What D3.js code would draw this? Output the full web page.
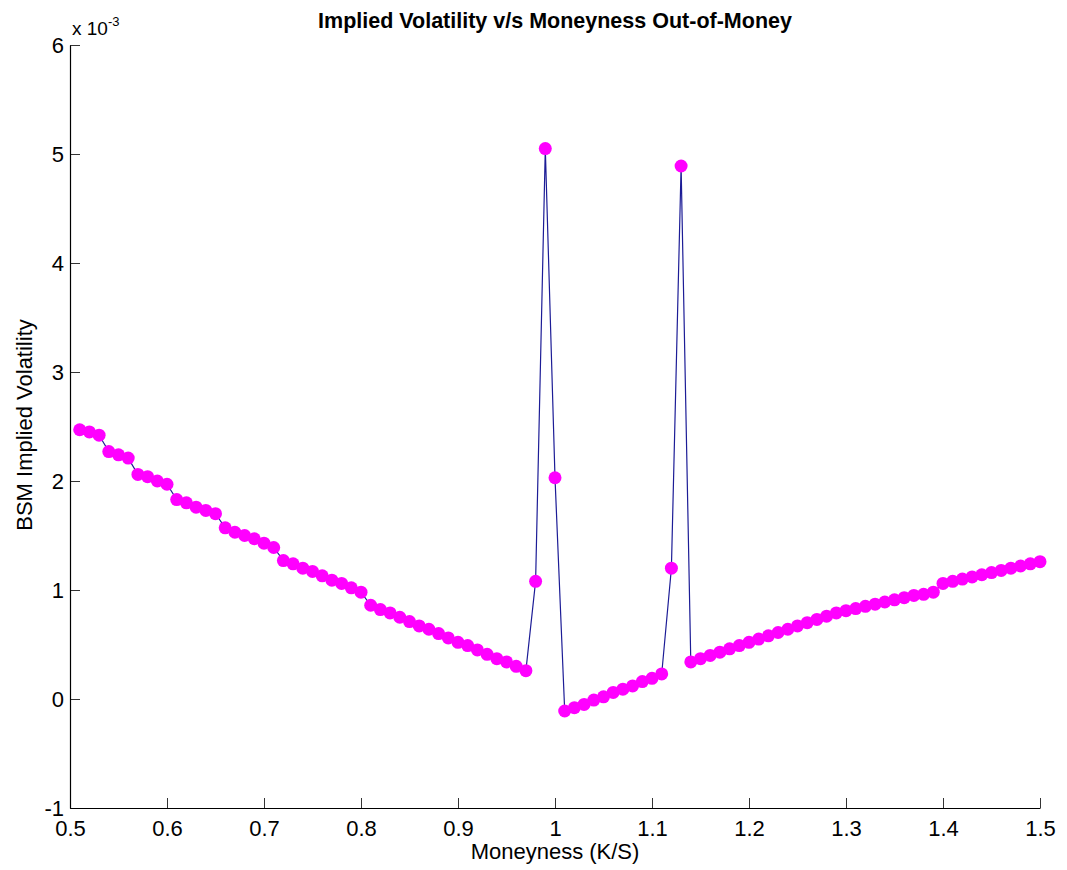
<!DOCTYPE html>
<html>
<head>
<meta charset="utf-8">
<script src="https://cdn.jsdelivr.net/npm/d3@7"></script>
<style>
  body { margin: 0; background: #fff; }
  text { font-family: Arial, "Liberation Sans", sans-serif; fill: #000; }
</style>
</head>
<body>
<svg id="chart" width="1067" height="870"></svg>
<script>
// moneyness K/S
var moneyness = [
  0.51, 0.52, 0.53, 0.54, 0.55, 0.56, 0.57, 0.58, 0.59, 0.60,
  0.61, 0.62, 0.63, 0.64, 0.65, 0.66, 0.67, 0.68, 0.69, 0.70,
  0.71, 0.72, 0.73, 0.74, 0.75, 0.76, 0.77, 0.78, 0.79, 0.80,
  0.81, 0.82, 0.83, 0.84, 0.85, 0.86, 0.87, 0.88, 0.89, 0.90,
  0.91, 0.92, 0.93, 0.94, 0.95, 0.96, 0.97, 0.98, 0.99, 1.00,
  1.01, 1.02, 1.03, 1.04, 1.05, 1.06, 1.07, 1.08, 1.09, 1.10,
  1.11, 1.12, 1.13, 1.14, 1.15, 1.16, 1.17, 1.18, 1.19, 1.20,
  1.21, 1.22, 1.23, 1.24, 1.25, 1.26, 1.27, 1.28, 1.29, 1.30,
  1.31, 1.32, 1.33, 1.34, 1.35, 1.36, 1.37, 1.38, 1.39, 1.40,
  1.41, 1.42, 1.43, 1.44, 1.45, 1.46, 1.47, 1.48, 1.49, 1.50
];

// implied vol, in units of 1e-3
var impliedVol = [
  2.47, 2.45, 2.42, 2.27, 2.24, 2.21, 2.06, 2.04, 2.00, 1.97,
  1.83, 1.80, 1.76, 1.73, 1.70, 1.57, 1.53, 1.50, 1.47, 1.43,
  1.39, 1.27, 1.24, 1.20, 1.17, 1.13, 1.09, 1.06, 1.02, 0.98,
  0.86, 0.82, 0.79, 0.75, 0.71, 0.67, 0.64, 0.60, 0.56, 0.52,
  0.49, 0.45, 0.41, 0.37, 0.34, 0.30, 0.26, 1.08, 5.05, 2.03,
  -0.11, -0.08, -0.05, -0.01, 0.02, 0.06, 0.09, 0.12, 0.16, 0.19,
  0.23, 1.20, 4.89, 0.34, 0.37, 0.40, 0.43, 0.46, 0.49, 0.52,
  0.55, 0.58, 0.61, 0.64, 0.67, 0.70, 0.73, 0.76, 0.79, 0.81,
  0.83, 0.85, 0.87, 0.89, 0.91, 0.93, 0.95, 0.96, 0.98, 1.06,
  1.08, 1.10, 1.12, 1.14, 1.16, 1.18, 1.20, 1.22, 1.24, 1.26
];

var xTicks = [0.5, 0.6, 0.7, 0.8, 0.9, 1.0, 1.1, 1.2, 1.3, 1.4, 1.5];
var yTicks = [-1, 0, 1, 2, 3, 4, 5, 6];

var margin = {top: 45, right: 27, bottom: 62, left: 70};
var width = 1067 - margin.left - margin.right;
var height = 870 - margin.top - margin.bottom;

var svg = d3.select('#chart');
var g = svg.append('g')
    .attr('transform', 'translate(' + margin.left + ',' + margin.top + ')');

var x = d3.scaleLinear().domain([0.5, 1.5]).range([0, width]);
var y = d3.scaleLinear().domain([-1, 6]).range([height, 0]);

var data = moneyness.map(function(m, i){ return {x: m, y: impliedVol[i]}; });

// axes (matlab style, ticks pointing inward, no box)
var xAxis = d3.axisBottom(x).tickValues(xTicks).tickSizeInner(-10).tickSizeOuter(0)
    .tickFormat(function(d){ return String(+d.toFixed(1)); });
var yAxis = d3.axisLeft(y).tickValues(yTicks).tickSizeInner(-10).tickSizeOuter(0)
    .tickFormat(function(d){ return String(d); });

var gx = g.append('g')
    .attr('transform', 'translate(0,' + height + ')')
    .call(xAxis);
gx.selectAll('text').attr('y', 28).attr('dy', 0).style('font-size', '22px');

var gy = g.append('g').call(yAxis);
gy.selectAll('text').attr('x', -6).attr('dy', '0.33em').style('font-size', '22px');

[gx, gy].forEach(function(a){
    a.select('.domain').attr('stroke', '#000').attr('stroke-width', 1.2);
    a.selectAll('.tick line').attr('stroke', '#000').attr('stroke-width', 0.8);
});

// line
var line = d3.line().x(function(d){ return x(d.x); }).y(function(d){ return y(d.y); });
g.append('path')
    .datum(data)
    .attr('fill', 'none')
    .attr('stroke', '#1c1c96')
    .attr('stroke-width', 1.2)
    .attr('d', line);

// markers
g.selectAll('circle.pt')
    .data(data)
    .enter().append('circle')
    .attr('class', 'pt')
    .attr('cx', function(d){ return x(d.x); })
    .attr('cy', function(d){ return y(d.y); })
    .attr('r', 6.5)
    .attr('fill', '#ff00ff');

// exponent label
var expo = svg.append('text')
    .attr('x', 72)
    .attr('y', 35)
    .style('font-size', '19px');
expo.append('tspan').text('x 10');
expo.append('tspan').attr('dy', -9).style('font-size', '13px').text('-3');

// title
svg.append('text')
    .attr('x', 555)
    .attr('y', 28)
    .attr('text-anchor', 'middle')
    .style('font-size', '21.5px')
    .style('font-weight', 'bold')
    .text('Implied Volatility v/s Moneyness Out-of-Money');

// axis labels
svg.append('text')
    .attr('x', 555)
    .attr('y', 859)
    .attr('text-anchor', 'middle')
    .style('font-size', '22px')
    .text('Moneyness (K/S)');

svg.append('text')
    .attr('transform', 'translate(32,425) rotate(-90)')
    .attr('text-anchor', 'middle')
    .style('font-size', '22px')
    .text('BSM Implied Volatility');
</script>
</body>
</html>
